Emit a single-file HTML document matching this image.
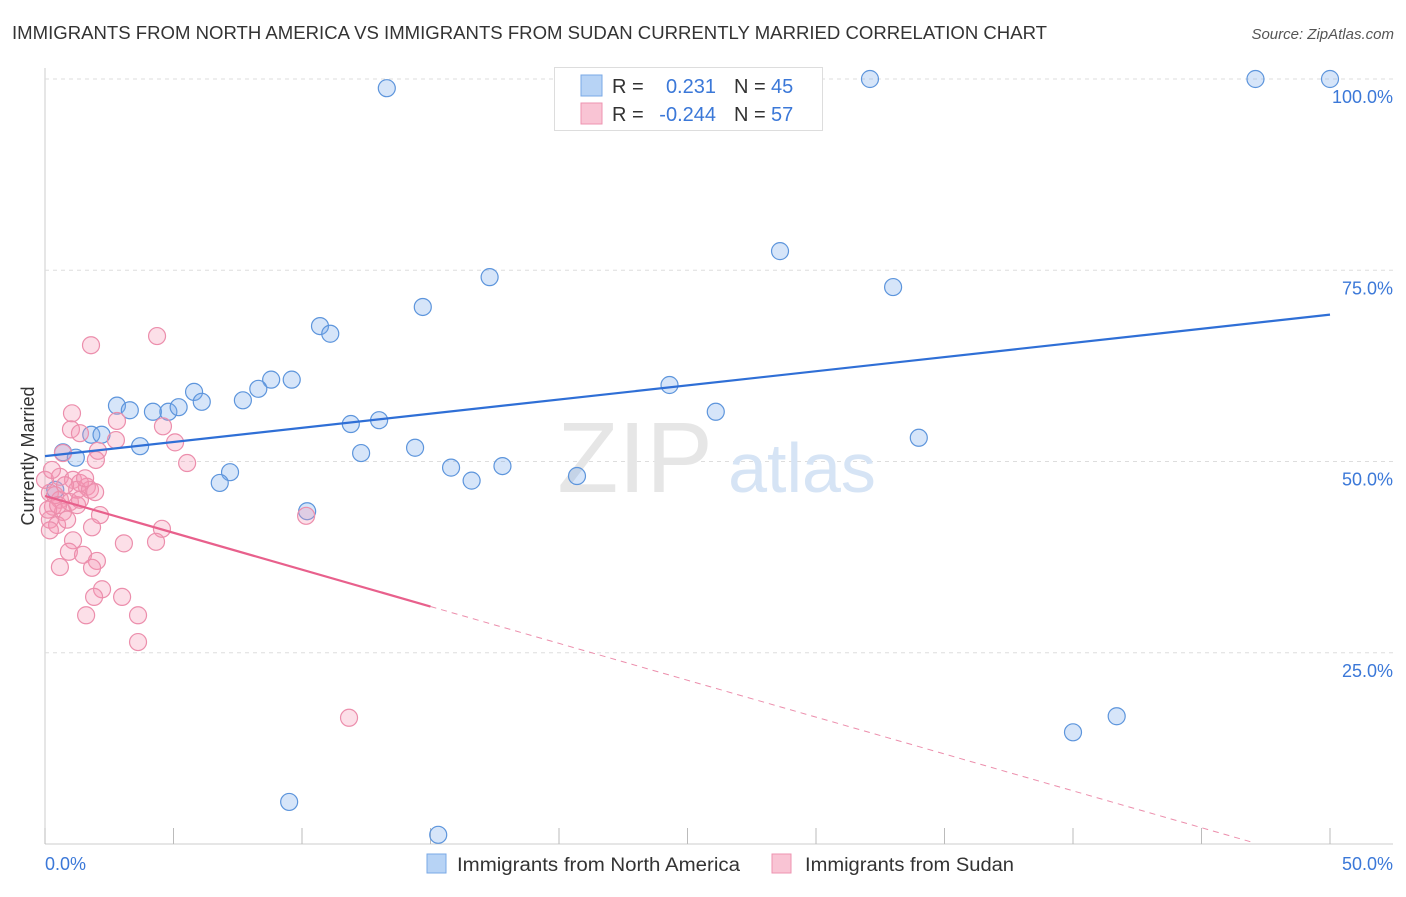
<!DOCTYPE html>
<html><head><meta charset="utf-8"><style>
body{margin:0;background:#fff;font-family:"Liberation Sans",sans-serif;}
svg text{font-family:"Liberation Sans",sans-serif;}
</style></head><body>
<svg id="c" width="1406" height="892" xmlns="http://www.w3.org/2000/svg">
<text x="12" y="39" font-size="18" fill="#333" textLength="1035" lengthAdjust="spacingAndGlyphs">IMMIGRANTS FROM NORTH AMERICA VS IMMIGRANTS FROM SUDAN CURRENTLY MARRIED CORRELATION CHART</text>
<text x="1394" y="39" font-size="15" fill="#555" font-style="italic" text-anchor="end">Source: ZipAtlas.com</text>
<g id="grid"></g>
<text x="635" y="492" font-size="100" fill="#e6e6e6" font-family="Liberation Serif" text-anchor="middle">ZIP</text>
<text x="802" y="492" font-size="70" fill="#d6e4f5" text-anchor="middle">atlas</text>
<g id="pts"></g>
<g id="lines"></g>
<text x="0" y="0" font-size="18" fill="#333" transform="translate(34,456) rotate(-90)" text-anchor="middle">Currently Married</text>
<text x="45" y="870" font-size="18" fill="#3b78d8">0.0%</text>
<text x="1393" y="870" font-size="18" fill="#3b78d8" text-anchor="end">50.0%</text>
<g>
<rect x="554.5" y="67.5" width="268" height="63" fill="#fff" stroke="#ddd"/>
<rect x="581" y="75" width="21" height="21" fill="#b7d3f5" stroke="#7aa8e6"/>
<rect x="581" y="103" width="21" height="21" fill="#f9c4d4" stroke="#ee93b0"/>
<text x="612" y="93" font-size="20" fill="#333">R =</text><text x="716" y="93" font-size="20" fill="#3b78d8" text-anchor="end">0.231</text>
<text x="734" y="93" font-size="20" fill="#333">N =</text><text x="771" y="93" font-size="20" fill="#3b78d8">45</text>
<text x="612" y="121" font-size="20" fill="#333">R =</text><text x="716" y="121" font-size="20" fill="#3b78d8" text-anchor="end">-0.244</text>
<text x="734" y="121" font-size="20" fill="#333">N =</text><text x="771" y="121" font-size="20" fill="#3b78d8">57</text>
</g>
<g><rect x="427" y="854" width="19" height="19" fill="#b7d3f5" stroke="#7aa8e6"/><text x="457" y="871" font-size="19" fill="#333" textLength="283" lengthAdjust="spacingAndGlyphs">Immigrants from North America</text></g>
<g><rect x="772" y="854" width="19" height="19" fill="#f9c4d4" stroke="#ee93b0"/><text x="805" y="871" font-size="19" fill="#333" textLength="209" lengthAdjust="spacingAndGlyphs">Immigrants from Sudan</text></g>
</svg>
<script>
const yTicks=[25,50,75,100];
const yTickLabels=["25.0%","50.0%","75.0%","100.0%"];
const xTicks=[0,5,10,15,20,25,30,35,40,45,50];
const blueX=[13.3,32.1,47.1,50,28.6,17.3,33.0,14.7,10.7,11.1,24.3,8.8,9.6,5.8,8.3,6.1,7.7,2.8,3.3,4.2,4.8,5.2,26.1,11.9,13.0,34.0,1.8,2.2,3.7,14.4,12.3,0.7,1.2,15.8,17.8,7.2,6.8,16.6,20.7,0.4,10.2,40.0,41.7,9.5,15.3];
const blueY=[98.8,100,100,100,77.5,74.1,72.8,70.2,67.7,66.7,60.0,60.7,60.7,59.1,59.5,57.8,58.0,57.3,56.7,56.5,56.5,57.1,56.5,54.9,55.4,53.1,53.5,53.5,52.0,51.8,51.1,51.2,50.5,49.2,49.4,48.6,47.2,47.5,48.1,46.3,43.5,14.6,16.7,5.5,1.2];
const pinkX=[1.79,4.36,1.05,1.01,1.36,2.80,2.76,4.59,5.06,2.06,1.98,0.70,5.53,0.58,1.09,1.36,1.63,1.25,1.75,0.19,0.58,0.31,0.97,1.25,0.70,0.19,0.47,0.19,2.14,1.83,4.55,4.32,3.07,1.09,0.93,1.48,2.02,1.83,0.58,2.22,1.91,3.00,1.60,3.62,3.62,10.16,11.83,0.39,0.78,0.12,1.56,1.95,0.86,0.51,1.36,0,0.27];
const pinkY=[65.2,66.4,56.3,54.2,53.7,55.3,52.8,54.6,52.5,51.4,50.2,51.1,49.8,48.0,47.6,47.2,46.7,46.3,46.3,45.9,45.0,44.1,44.7,44.3,43.4,42.4,41.7,41.0,43.0,41.4,41.2,39.5,39.3,39.7,38.2,37.8,37.0,36.1,36.2,33.3,32.3,32.3,29.9,29.9,26.4,42.9,16.5,45.6,46.9,43.7,47.8,46.0,42.4,44.3,45.0,47.6,48.9];
const blueTrend=[50.7,69.2];
const pinkTrend=[45.5,0.3];
const pinkTrendEnd=[15,46.9];
const NS="http://www.w3.org/2000/svg";
const X=v=>45+v*25.7, Y=v=>844-v*7.65;
function mk(t,a,p){const e=document.createElementNS(NS,t);for(const k in a)e.setAttribute(k,a[k]);p.appendChild(e);return e;}
const grid=document.getElementById('grid');
mk('line',{x1:45,y1:68,x2:45,y2:844,stroke:'#ccc'},grid);
mk('line',{x1:45,y1:844,x2:1393,y2:844,stroke:'#ccc'},grid);
yTicks.forEach((t,i)=>{
 const l=mk('line',{x1:45,y1:Y(t),x2:1393,y2:Y(t),stroke:'#ddd','stroke-dasharray':'4,4'},grid);
 
 
 const tx=mk('text',{x:1393,y:Y(t)+24,'font-size':18,fill:'#3b78d8','text-anchor':'end'},grid);
 tx.textContent=yTickLabels[i];
 
 
});
xTicks.forEach(t=>{
 const l=mk('line',{x1:X(t),y1:828,x2:X(t),y2:844,stroke:'#bbb'},grid);
 
 
});
const pts=document.getElementById('pts');
blueX.forEach((x,i)=>{
 const c=mk('circle',{cx:X(x),cy:Y(blueY[i]),r:8.5,fill:'rgba(120,170,235,0.3)',stroke:'#5d95dc','stroke-width':1.2},pts);
 
 
});
pinkX.forEach((x,i)=>{
 const c=mk('circle',{cx:X(x),cy:Y(pinkY[i]),r:8.5,fill:'rgba(245,150,180,0.3)',stroke:'#ec8eac','stroke-width':1.2},pts);
 
 
});
const lines=document.getElementById('lines');
const bl=mk('line',{x1:X(0),y1:Y(blueTrend[0]),x2:X(50),y2:Y(blueTrend[1]),stroke:'#2f6fd6','stroke-width':2.2},lines);


const slope=(pinkTrend[1]-pinkTrend[0])/pinkTrendEnd[1];
const ys=pinkTrend[0]+slope*pinkTrendEnd[0];
const pl=mk('line',{x1:X(0),y1:Y(pinkTrend[0]),x2:X(pinkTrendEnd[0]),y2:Y(ys),stroke:'#e8608c','stroke-width':2.2},lines);


const pd=mk('line',{x1:X(pinkTrendEnd[0]),y1:Y(ys),x2:X(pinkTrendEnd[1]),y2:Y(pinkTrend[1]),stroke:'#ec8eac','stroke-width':1,'stroke-dasharray':'6,5'},lines);


</script>
</body></html>
